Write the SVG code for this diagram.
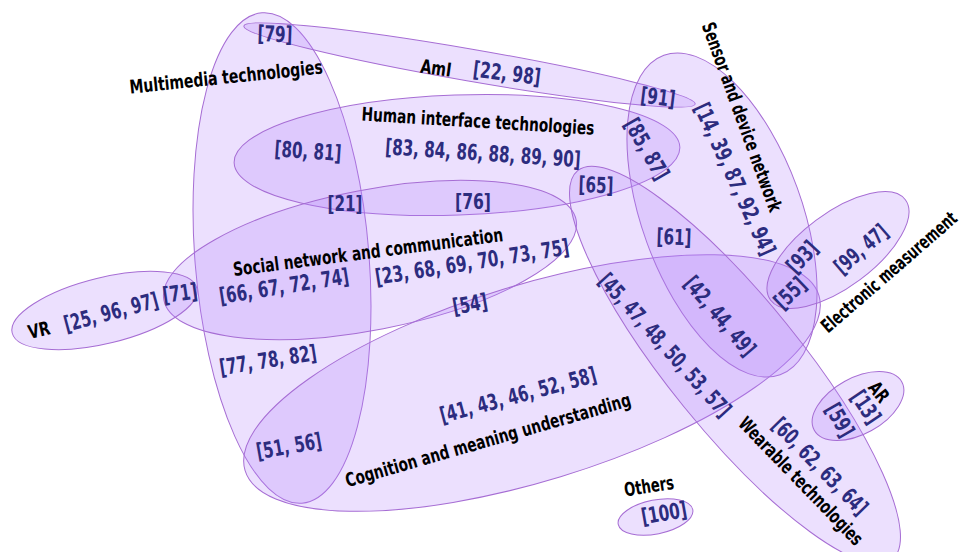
<svg xmlns="http://www.w3.org/2000/svg" width="965" height="552" viewBox="0 0 965 552">
<style>
.e{fill:#b482fa;fill-opacity:0.25;stroke:#a66dd4;stroke-width:1}
.l{font-family:"Liberation Sans Narrow","DejaVu Sans Condensed","Liberation Sans",sans-serif;font-stretch:condensed;font-weight:bold;font-size:19px;fill:#000;text-anchor:middle}
.n{font-family:"Liberation Sans Narrow","DejaVu Sans Condensed","Liberation Sans",sans-serif;font-stretch:condensed;font-weight:bold;font-size:22px;fill:#2c2c7e;text-anchor:middle}
</style>
<rect width="965" height="552" fill="#fff"/>
<g id="sets">
<ellipse id="multimedia" class="e" cx="282" cy="258" rx="87" ry="246" transform="rotate(-4.66 282 258)"/>
<ellipse id="ami" class="e" cx="469.5" cy="65" rx="229" ry="16" transform="rotate(9.8 469.5 65)"/>
<ellipse id="human" class="e" cx="457" cy="155" rx="223" ry="60" transform="rotate(-2 457 155)"/>
<ellipse id="social" class="e" cx="370" cy="260" rx="210" ry="70" transform="rotate(-11 370 260)"/>
<ellipse id="vr" class="e" cx="104.5" cy="310.5" rx="95" ry="33" transform="rotate(-13.7 104.5 310.5)"/>
<ellipse id="cognition" class="e" cx="532" cy="383" rx="300" ry="98" transform="rotate(-17 532 383)"/>
<ellipse id="sensor" class="e" cx="722" cy="215" rx="80" ry="170" transform="rotate(-20 722 215)"/>
<ellipse id="electronic" class="e" cx="838" cy="250" rx="84" ry="37" transform="rotate(-36.7 838 250)"/>
<ellipse id="wearable" class="e" cx="735" cy="365" rx="250" ry="66" transform="rotate(51 735 365)"/>
<ellipse id="ar" class="e" cx="858" cy="406" rx="50" ry="28" transform="rotate(-29 858 406)"/>
<ellipse id="others" class="e" cx="655.5" cy="517" rx="38" ry="17" transform="rotate(-11.3 655.5 517)"/>
</g>
<g id="labels">
<text class="l" dy="0.35em" textLength="194" lengthAdjust="spacingAndGlyphs" transform="translate(226 77) rotate(-6)">Multimedia technologies</text>
<text class="l" dy="0.35em" textLength="31" lengthAdjust="spacingAndGlyphs" transform="translate(436 68) rotate(8)">AmI</text>
<text class="l" dy="0.35em" textLength="233" lengthAdjust="spacingAndGlyphs" transform="translate(478 121) rotate(3.5)">Human interface technologies</text>
<text class="l" dy="0.35em" textLength="272" lengthAdjust="spacingAndGlyphs" transform="translate(368 252) rotate(-7.4)">Social network and communication</text>
<text class="l" dy="0.35em" textLength="22" lengthAdjust="spacingAndGlyphs" transform="translate(39 330) rotate(-13)">VR</text>
<text class="l" dy="0.35em" textLength="296" lengthAdjust="spacingAndGlyphs" transform="translate(488 440) rotate(-16)">Cognition and meaning understanding</text>
<text class="l" dy="0.35em" textLength="200" lengthAdjust="spacingAndGlyphs" transform="translate(742 117) rotate(70)">Sensor and device network</text>
<text class="l" dy="0.35em" textLength="173" lengthAdjust="spacingAndGlyphs" transform="translate(889 272) rotate(-41)">Electronic measurement</text>
<text class="l" dy="0.35em" textLength="21" lengthAdjust="spacingAndGlyphs" transform="translate(879 392) rotate(52)">AR</text>
<text class="l" dy="0.35em" textLength="170" lengthAdjust="spacingAndGlyphs" transform="translate(801 481) rotate(46)">Wearable technologies</text>
<text class="l" dy="0.35em" textLength="50" lengthAdjust="spacingAndGlyphs" transform="translate(649 486) rotate(-9)">Others</text>
</g>
<g id="refs">
<text class="n" dy="0.35em" textLength="35" lengthAdjust="spacingAndGlyphs" transform="translate(275 34) rotate(2)">[79]</text>
<text class="n" dy="0.35em" textLength="68" lengthAdjust="spacingAndGlyphs" transform="translate(507 73) rotate(7)">[22, 98]</text>
<text class="n" dy="0.35em" textLength="35" lengthAdjust="spacingAndGlyphs" transform="translate(658 97) rotate(7)">[91]</text>
<text class="n" dy="0.35em" textLength="67" lengthAdjust="spacingAndGlyphs" transform="translate(308 151) rotate(4)">[80, 81]</text>
<text class="n" dy="0.35em" textLength="196" lengthAdjust="spacingAndGlyphs" transform="translate(483 153) rotate(3.8)">[83, 84, 86, 88, 89, 90]</text>
<text class="n" dy="0.35em" textLength="67" lengthAdjust="spacingAndGlyphs" transform="translate(647 149) rotate(60)">[85, 87]</text>
<text class="n" dy="0.35em" textLength="165" lengthAdjust="spacingAndGlyphs" transform="translate(735 179) rotate(65.4)">[14, 39, 87, 92, 94]</text>
<text class="n" dy="0.35em" textLength="35" lengthAdjust="spacingAndGlyphs" transform="translate(345 203)">[21]</text>
<text class="n" dy="0.35em" textLength="36" lengthAdjust="spacingAndGlyphs" transform="translate(473 201)">[76]</text>
<text class="n" dy="0.35em" textLength="35" lengthAdjust="spacingAndGlyphs" transform="translate(596 185) rotate(2)">[65]</text>
<text class="n" dy="0.35em" textLength="131" lengthAdjust="spacingAndGlyphs" transform="translate(284 286) rotate(-9)">[66, 67, 72, 74]</text>
<text class="n" dy="0.35em" textLength="196" lengthAdjust="spacingAndGlyphs" transform="translate(472 262) rotate(-9)">[23, 68, 69, 70, 73, 75]</text>
<text class="n" dy="0.35em" textLength="35" lengthAdjust="spacingAndGlyphs" transform="translate(180 293) rotate(-8)">[71]</text>
<text class="n" dy="0.35em" textLength="97" lengthAdjust="spacingAndGlyphs" transform="translate(111 312) rotate(-15)">[25, 96, 97]</text>
<text class="n" dy="0.35em" textLength="35" lengthAdjust="spacingAndGlyphs" transform="translate(470 304) rotate(-10)">[54]</text>
<text class="n" dy="0.35em" textLength="35" lengthAdjust="spacingAndGlyphs" transform="translate(674 237) rotate(2)">[61]</text>
<text class="n" dy="0.35em" textLength="97" lengthAdjust="spacingAndGlyphs" transform="translate(720 316) rotate(49.6)">[42, 44, 49]</text>
<text class="n" dy="0.35em" textLength="185" lengthAdjust="spacingAndGlyphs" transform="translate(665 345) rotate(47.8)">[45, 47, 48, 50, 53, 57]</text>
<text class="n" dy="0.35em" textLength="35" lengthAdjust="spacingAndGlyphs" transform="translate(802 257) rotate(-47)">[93]</text>
<text class="n" dy="0.35em" textLength="35" lengthAdjust="spacingAndGlyphs" transform="translate(790 293) rotate(-44)">[55]</text>
<text class="n" dy="0.35em" textLength="63" lengthAdjust="spacingAndGlyphs" transform="translate(861 249) rotate(-41)">[99, 47]</text>
<text class="n" dy="0.35em" textLength="98" lengthAdjust="spacingAndGlyphs" transform="translate(268 360) rotate(-9)">[77, 78, 82]</text>
<text class="n" dy="0.35em" textLength="161" lengthAdjust="spacingAndGlyphs" transform="translate(518 395) rotate(-15)">[41, 43, 46, 52, 58]</text>
<text class="n" dy="0.35em" textLength="66" lengthAdjust="spacingAndGlyphs" transform="translate(289 446) rotate(-10)">[51, 56]</text>
<text class="n" dy="0.35em" textLength="35" lengthAdjust="spacingAndGlyphs" transform="translate(866 407) rotate(56)">[13]</text>
<text class="n" dy="0.35em" textLength="35" lengthAdjust="spacingAndGlyphs" transform="translate(840 420) rotate(60)">[59]</text>
<text class="n" dy="0.35em" textLength="126" lengthAdjust="spacingAndGlyphs" transform="translate(820 466) rotate(45.6)">[60, 62, 63, 64]</text>
<text class="n" dy="0.35em" textLength="46" lengthAdjust="spacingAndGlyphs" transform="translate(664 513) rotate(-10)">[100]</text>
</g>
</svg>
